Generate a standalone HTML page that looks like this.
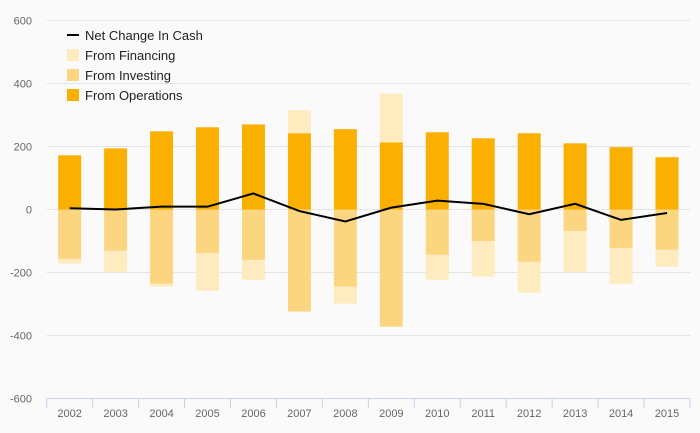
<!DOCTYPE html>
<html><head><meta charset="utf-8"><style>
body{margin:0;background:#fafafa;}
svg{display:block;font-family:"Liberation Sans",sans-serif;}
</style></head><body>
<svg id="chart" width="700" height="433">
<rect width="700" height="433" fill="#fafafa"/>
<g id="grid"></g><g id="bars"></g><g id="line"></g><g id="axes"></g>
<g>
<line x1="67" y1="35" x2="79" y2="35" stroke="#000" stroke-width="2"/>
<text x="85" y="40" font-size="13" fill="#222">Net Change In Cash</text>
<rect x="67" y="49" width="12" height="12" fill="#ffebc0"/>
<text x="85" y="60" font-size="13" fill="#222">From Financing</text>
<rect x="67" y="69" width="12" height="12" fill="#fcd580"/>
<text x="85" y="80" font-size="13" fill="#222">From Investing</text>
<rect x="67" y="89" width="12" height="12" fill="#f9b000"/>
<text x="85" y="100" font-size="13" fill="#222">From Operations</text>
</g>
</svg>
<script>
const years=["2002","2003","2004","2005","2006","2007","2008","2009","2010","2011","2012","2013","2014","2015"];
const operations=[172,194,248,261,270,242,255,213,245,226,242,210,198,166];
const investing=[-157,-131,-236,-138,-160,-324,-245,-372,-144,-100,-166,-68,-122,-128];
const financing=[-15,-67,-9,-120,-63,73,-54,155,-79,-113,-98,-130,-114,-54];
const netChange=[4,0,9,9,51,-5,-38,6,28,18,-15,18,-33,-11];
const yTicks=[600,400,200,0,-200,-400,-600];
const NS="http://www.w3.org/2000/svg";
const x0=46.7,x1=690,band=(x1-x0)/years.length,bw=23;
function y(v){return 209.5-v*(189/600);}
function xc(i){return x0+band*(i+0.5);}
function mk(tag,attrs,parent){const e=document.createElementNS(NS,tag);for(const k in attrs)e.setAttribute(k,attrs[k]);document.getElementById(parent).appendChild(e);return e;}
yTicks.forEach(t=>{
  if(t>-600){const g=mk('line',{x1:x0,x2:x1,y1:y(t),y2:y(t),stroke:'#e4e4e4','stroke-width':1},'grid');
  
  }
  const l=mk('text',{x:32,y:y(t)+4,'font-size':11,fill:'#666','text-anchor':'end'},'axes');
  l.textContent=t;
  
  
});
const ax=mk('line',{x1:x0,x2:x1,y1:398.5,y2:398.5,stroke:'#c8d3ea','stroke-width':1},'axes');


for(let i=0;i<=years.length;i++){
  const tk=mk('line',{x1:x0+band*i,x2:x0+band*i,y1:398.5,y2:408,stroke:'#c8d3ea'},'axes');
  
  
}
function seg(i,a,b,fill,name){
  const r=mk('rect',{x:xc(i)-bw/2,y:Math.min(y(a),y(b)),width:bw,height:Math.abs(y(a)-y(b)),fill:fill},'bars');
  
  
}
years.forEach((yr,i)=>{
  let pos=0,neg=0;
  seg(i,0,operations[i],'#f9b000','bar-operations-'+yr);pos+=operations[i];
  seg(i,0,investing[i],'#fcd580','bar-investing-'+yr);neg+=investing[i];
  if(financing[i]>=0)seg(i,pos,pos+financing[i],'#ffebc0','bar-financing-'+yr);
  else seg(i,neg,neg+financing[i],'#ffebc0','bar-financing-'+yr);
  const lb=mk('text',{x:xc(i),y:417,'font-size':11,fill:'#666','text-anchor':'middle'},'axes');
  lb.textContent=yr;
  
  
});
const p=mk('polyline',{points:netChange.map((v,i)=>xc(i)+','+y(v)).join(' '),fill:'none',stroke:'#000','stroke-width':2},'line');


</script>
</body></html>
